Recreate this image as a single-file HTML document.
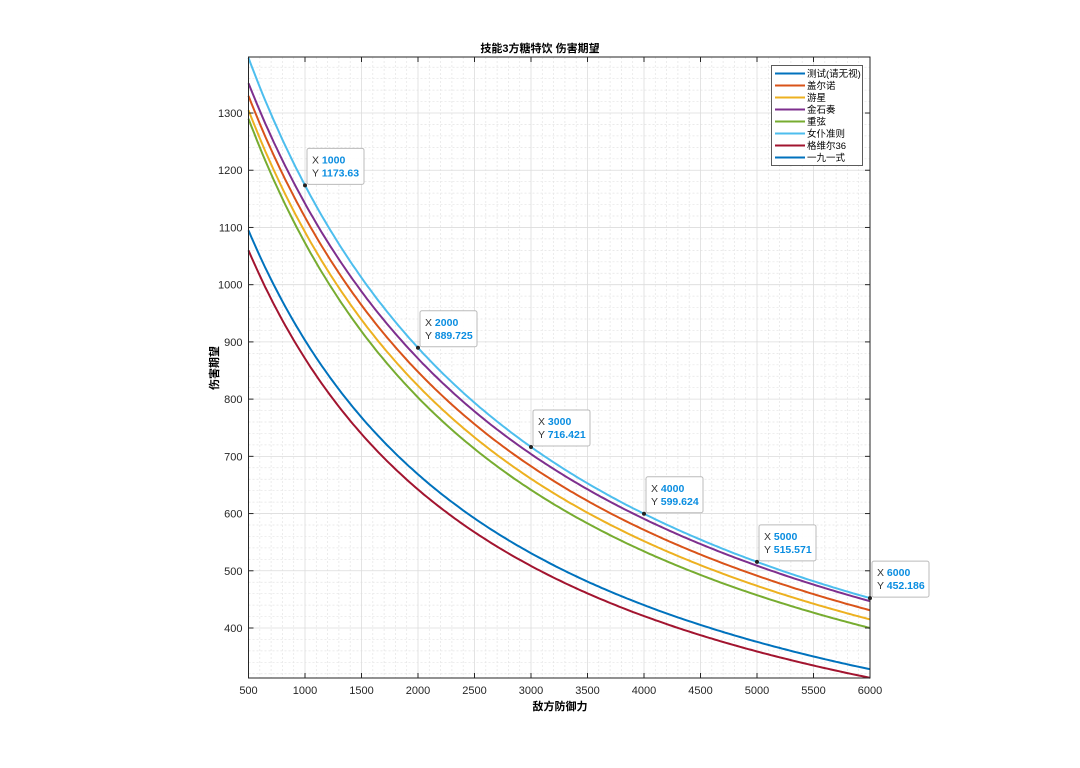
<!DOCTYPE html>
<html><head><meta charset="utf-8"><style>
body{margin:0;background:#fff;width:1080px;height:763px;overflow:hidden}
text{font-family:"Liberation Sans","Noto Sans CJK SC",sans-serif}
</style></head><body>
<svg id="s" width="1080" height="763" xmlns="http://www.w3.org/2000/svg"></svg>
<script>
const L=248.5,R=870,T=57,B=678;
const X=v=>L+(v-500)*(R-L)/5500;
const Y=v=>628-(v-400)*0.5722;
let h='';
// minor grid
for(let v=600;v<6000;v+=100){if(v%500)h+=`<line x1="${X(v)}" y1="${T}" x2="${X(v)}" y2="${B}" stroke="#e4e4e4" stroke-width="0.7" stroke-dasharray="2,2"/>`;}
for(let v=320;v<1400;v+=20){if(v%100&&Y(v)>T&&Y(v)<B)h+=`<line x1="${L}" y1="${Y(v)}" x2="${R}" y2="${Y(v)}" stroke="#e4e4e4" stroke-width="0.7" stroke-dasharray="2,2"/>`;}
for(let v=1000;v<6000;v+=500)h+=`<line x1="${X(v)}" y1="${T}" x2="${X(v)}" y2="${B}" stroke="#dcdcdc" stroke-width="0.8"/>`;
for(let v=400;v<=1300;v+=100)h+=`<line x1="${L}" y1="${Y(v)}" x2="${R}" y2="${Y(v)}" stroke="#dcdcdc" stroke-width="0.8"/>`;
// curves
const C=[[3189000,1972,'#77ac30'],[3347000,2065,'#edb120'],[3507000,2137,'#d95319'],[3672000,2216,'#7e2f8e'],[3678160,2134,'#4dbeee'],[2575000,1852,'#0072bd'],[2443000,1805,'#a2142f']];
for(const [A,c,col] of C){let d='';for(let x=500;x<=6000;x+=25){d+=(x==500?'M':'L')+X(x).toFixed(1)+','+Y(A/(x+c)).toFixed(1);}
h+=`<path d="${d}" fill="none" stroke="${col}" stroke-width="2"/>`;}
// axes box
h+=`<rect x="${L}" y="${T}" width="${R-L}" height="${B-T}" fill="none" stroke="#262626" stroke-width="1"/>`;
for(let v=500;v<=6000;v+=500){h+=`<line x1="${X(v)}" y1="${B}" x2="${X(v)}" y2="${B-5}" stroke="#262626"/><line x1="${X(v)}" y1="${T}" x2="${X(v)}" y2="${T+5}" stroke="#262626"/><text x="${X(v)}" y="${B+16}" font-size="11" fill="#262626" text-anchor="middle">${v}</text>`;}
for(let v=400;v<=1300;v+=100){h+=`<line x1="${L}" y1="${Y(v)}" x2="${L+5}" y2="${Y(v)}" stroke="#262626"/><line x1="${R}" y1="${Y(v)}" x2="${R-5}" y2="${Y(v)}" stroke="#262626"/><text x="${L-6}" y="${Y(v)+4}" font-size="11" fill="#262626" text-anchor="end">${v}</text>`;}
h+=`<text x="540" y="52" font-size="11" font-weight="bold" text-anchor="middle" fill="#000">技能3方糖特饮 伤害期望</text>`;
h+=`<text x="560" y="710" font-size="11" font-weight="bold" text-anchor="middle" fill="#000">敌方防御力</text>`;
h+=`<text transform="translate(218,368) rotate(-90)" font-size="11" font-weight="bold" text-anchor="middle" fill="#000">伤害期望</text>`;
// datatips
const tips=[[1000,'1173.63'],[2000,'889.725'],[3000,'716.421'],[4000,'599.624'],[5000,'515.571'],[6000,'452.186']];
for(const [x,y] of tips){const px=X(x),py=Y(+y);
h+=`<rect x="${px+2}" y="${py-37}" width="${y.length>6?57:52}" height="36" rx="2" fill="#fff" fill-opacity="0.92" stroke="#bbb"/>`;
h+=`<text x="${px+7}" y="${py-22}" font-size="10.5" fill="#333">X <tspan fill="#0a8de0" font-weight="bold">${x}</tspan></text>`;
h+=`<text x="${px+7}" y="${py-9}" font-size="10.5" fill="#333">Y <tspan fill="#0a8de0" font-weight="bold">${y}</tspan></text>`;
h+=`<circle cx="${px}" cy="${py}" r="2" fill="#222"/>`;}
// legend
const lg=[['测试(请无视)','#0072bd'],['盖尔诺','#d95319'],['游星','#edb120'],['金石奏','#7e2f8e'],['重弦','#77ac30'],['女仆准则','#4dbeee'],['格维尔36','#a2142f'],['一九一式','#0072bd']];
h+=`<rect x="771.5" y="65.5" width="91" height="100" fill="#fff" stroke="#333" stroke-width="0.8"/>`;
lg.forEach(([n,c],i)=>{const y=73.5+i*12;h+=`<line x1="775" y1="${y}" x2="805" y2="${y}" stroke="${c}" stroke-width="2"/><text x="807" y="${y+3.5}" font-size="9.5" fill="#000">${n}</text>`;});
document.getElementById('s').innerHTML=h;
</script>
</body></html>
